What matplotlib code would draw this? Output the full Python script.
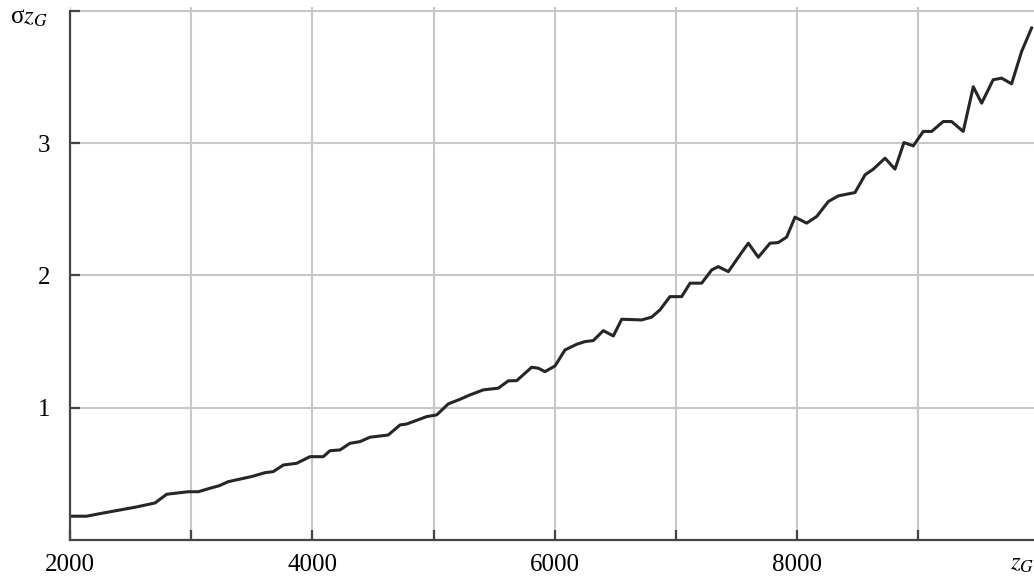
import matplotlib
matplotlib.use("Agg")
import matplotlib.pyplot as plt

# data
z_g = [2000, 2138, 2250, 2400, 2550, 2650, 2701, 2798, 2976, 3059, 3150, 3230, 3306,
       3400, 3500, 3609, 3677, 3760, 3870, 3980, 4090, 4145, 4228, 4310, 4393, 4475,
       4626, 4723, 4778, 4943, 5026, 5121, 5218, 5300, 5410, 5534, 5616, 5686, 5809,
       5864, 5919, 6002, 6084, 6181, 6249, 6318, 6400, 6483, 6552, 6717, 6799, 6868,
       6950, 7047, 7116, 7212, 7295, 7349, 7432, 7528, 7597, 7679, 7776, 7844, 7913,
       7982, 8078, 8161, 8257, 8339, 8477, 8560, 8628, 8725, 8807, 8881, 8958, 9040,
       9109, 9205, 9274, 9370, 9453, 9522, 9617, 9687, 9769, 9852, 9934]
sigma_z = [0.180, 0.180, 0.200, 0.225, 0.250, 0.270, 0.280, 0.346, 0.365, 0.365, 0.390,
           0.410, 0.441, 0.460, 0.480, 0.509, 0.517, 0.567, 0.580, 0.630, 0.630, 0.675,
           0.681, 0.731, 0.744, 0.777, 0.794, 0.870, 0.877, 0.933, 0.946, 1.029, 1.064,
           1.097, 1.135, 1.148, 1.203, 1.205, 1.306, 1.299, 1.273, 1.316, 1.437, 1.480,
           1.500, 1.508, 1.583, 1.543, 1.669, 1.664, 1.685, 1.740, 1.840, 1.840, 1.942,
           1.942, 2.042, 2.067, 2.029, 2.156, 2.244, 2.138, 2.244, 2.249, 2.290, 2.441,
           2.396, 2.446, 2.559, 2.602, 2.627, 2.761, 2.804, 2.887, 2.804, 3.005, 2.980,
           3.089, 3.089, 3.164, 3.164, 3.089, 3.427, 3.303, 3.480, 3.492, 3.449, 3.694,
           3.871]

x_ticks = [2000, 3000, 4000, 5000, 6000, 7000, 8000, 9000]
x_labels = ["2000", "", "4000", "", "6000", "", "8000", ""]
y_ticks = [1, 2, 3, 4]
y_labels = ["1", "2", "3", ""]

plt.rcParams["font.family"] = ["Liberation Serif", "DejaVu Serif"]
plt.rcParams["mathtext.fontset"] = "stix"

W, H = 1034, 576
fig = plt.figure(figsize=(W / 100, H / 100), dpi=100)
ax = fig.add_axes([70 / W, 36 / H, (W - 70) / W, (540 - 7) / H])

ax.plot(z_g, sigma_z, color="#262626", lw=2.2, solid_joinstyle="round", zorder=3)

ax.set_xlim(2000, 9954)
ax.set_ylim(0, 4.03)

ax.set_xticks(x_ticks)
ax.set_xticklabels(x_labels)
ax.set_yticks(y_ticks)
ax.set_yticklabels(y_labels)

ax.grid(True, color="#c8c8c8", lw=1.5, zorder=1)
ax.set_axisbelow(True)

for s in ("top", "right"):
    ax.spines[s].set_visible(False)
for s in ("left", "bottom"):
    ax.spines[s].set_color("#454545")
    ax.spines[s].set_linewidth(1.6)
    ax.spines[s].set_zorder(4)
ax.spines["left"].set_bounds(0, 4)

ax.tick_params(axis="both", direction="in", length=7, width=1.6, color="#454545",
               labelsize=18, labelcolor="black")
ax.tick_params(axis="x", pad=10)
ax.tick_params(axis="y", pad=14)

fig.text(10 / W, 1 - 24 / H, r"σ$z_G$", fontsize=18, ha="left", va="baseline")
fig.text(1010 / W, 1 - 570 / H, r"$z_G$", fontsize=18, ha="left", va="baseline")

fig.savefig("out.png", dpi=100)
